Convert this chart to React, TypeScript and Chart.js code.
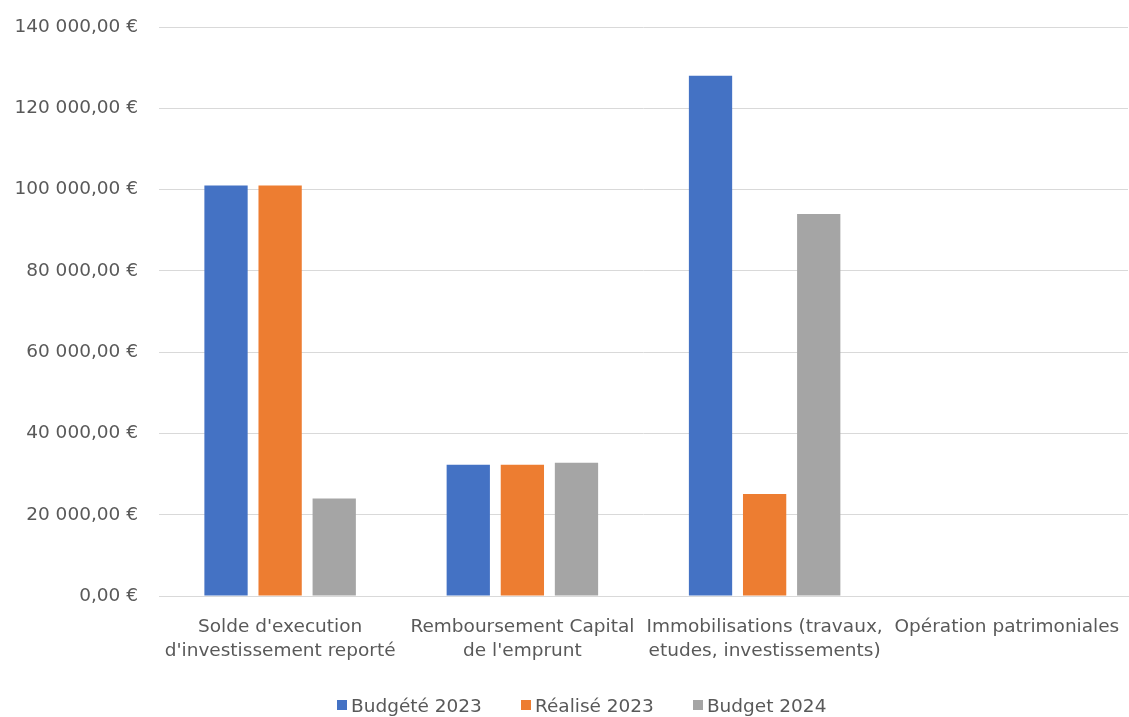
import React, { useEffect, useRef } from "react";
import { Chart, registerables } from "chart.js";

Chart.register(...registerables);

const categories: string[][] = [
  ["Solde d'execution", "d'investissement reporté"],
  ["Remboursement Capital", "de l'emprunt"],
  ["Immobilisations (travaux,", "etudes, investissements)"],
  ["Opération patrimoniales"],
];
const budgete2023: (number | null)[] = [101000, 32300, 128000, null];
const realise2023: (number | null)[] = [101000, 32300, 25100, null];
const budget2024: (number | null)[] = [24000, 32800, 94000, null];
const seriesNames = ["Budgété 2023", "Réalisé 2023", "Budget 2024"];
const seriesColors = ["#4472C4", "#ED7D31", "#A5A5A5"];
const yMin = 0;
const yMax = 140000;
const yStep = 20000;

const FONT = "'DejaVu Sans', 'Liberation Sans', sans-serif";
const TEXT_COLOR = "#595959";

function formatEuro(v: number): string {
  const fixed = v.toFixed(2);
  const [intPart, dec] = fixed.split(".");
  const grouped = intPart.replace(/\B(?=(\d{3})+(?!\d))/g, " ");
  return grouped + "," + dec + " €";
}

export default function App() {
  const ref = useRef<HTMLCanvasElement | null>(null);
  useEffect(() => {
    if (!ref.current) return;
    const chart = new Chart(ref.current, {
      type: "bar",
      data: {
        labels: categories,
        datasets: [budgete2023, realise2023, budget2024].map((d, i) => ({
          label: seriesNames[i],
          data: d,
          backgroundColor: seriesColors[i],
          borderWidth: 0,
          categoryPercentage: 0.67,
          barPercentage: 0.8,
        })),
      },
      options: {
        animation: false,
        responsive: false,
        maintainAspectRatio: false,
        layout: { padding: { top: 27, right: 1, left: 0, bottom: 41 } },
        plugins: {
          tooltip: { enabled: false },
          legend: { display: false },
        },
        scales: {
          x: {
            grid: { display: false, drawTicks: false },
            border: { display: true, color: "#D9D9D9", width: 1 },
            ticks: {
              color: TEXT_COLOR,
              font: { family: FONT, size: 18.5, lineHeight: 1.25 },
              padding: 20,
              maxRotation: 0,
              autoSkip: false,
            },
            afterFit: (s: any) => {
              s.height = 80;
              s.paddingLeft = 0;
              s.paddingRight = 0;
            },
          },
          y: {
            min: yMin,
            max: yMax,
            ticks: {
              stepSize: yStep,
              color: TEXT_COLOR,
              font: { family: FONT, size: 18.5 },
              padding: 21,
              callback: (v: any) => formatEuro(Number(v)),
            },
            grid: { color: "#D9D9D9", drawTicks: false },
            border: { display: false },
            afterFit: (s: any) => {
              s.width = 159;
              s.paddingTop = 0;
              s.paddingBottom = 0;
            },
          },
        },
      },
    });
    return () => chart.destroy();
  }, []);
  return (
    <div style={{ position: "fixed", left: 0, top: 0, width: 1129, height: 717, background: "#fff" }}>
      <canvas ref={ref} width={1129} height={717} style={{ width: 1129, height: 717, display: "block" }} />
      <div
        style={{
          position: "absolute",
          left: 337,
          top: 693,
          height: 24,
          display: "flex",
          alignItems: "center",
          fontFamily: FONT,
          fontSize: 18.5,
          color: TEXT_COLOR,
          whiteSpace: "nowrap",
        }}
      >
        {seriesNames.map((n, i) => (
          <div key={n} style={{ display: "flex", alignItems: "center", marginRight: 39 }}>
            <span style={{ display: "inline-block", width: 10, height: 10, background: seriesColors[i], marginRight: 4 }} />
            <span>{n}</span>
          </div>
        ))}
      </div>
    </div>
  );
}
